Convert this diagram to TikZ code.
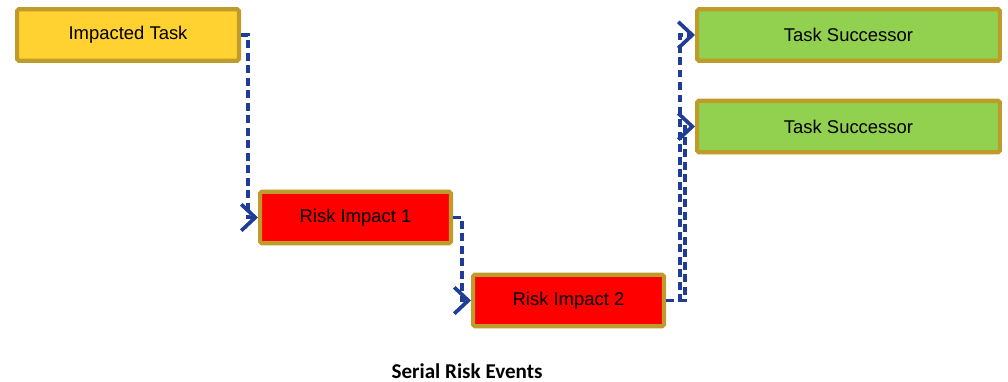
\documentclass[tikz,border=0pt]{standalone}
\usepackage{fontspec}
\setmainfont{Liberation Sans}
\newfontfamily\captionfont{Carlito}
\usepackage{xcolor}
\usetikzlibrary{arrows.meta,positioning}
\definecolor{taskyellow}{HTML}{FFD232}
\definecolor{boxgold}{HTML}{BF9B2A}
\definecolor{riskred}{HTML}{FF0000}
\definecolor{succgreen}{HTML}{92D050}
\definecolor{linkblue}{HTML}{1F3C96}

\begin{document}
\begin{tikzpicture}[x=0.02cm,y=-0.02cm,
    box/.style={draw=boxgold,line width=2.3pt,rounded corners=1pt,
        font=\fontsize{10.5}{12}\selectfont,inner sep=0pt,
        minimum height=1.03cm},
    link/.style={linkblue,line width=2.1pt,dash pattern=on 4.5pt off 2.6pt,
        -{Straight Barb[length=8pt,width=15pt,line width=2.1pt]}}]
    \useasboundingbox (0,0) rectangle (1008,382);

    % Boxes
    \node[box,fill=taskyellow,minimum width=4.44cm] (imp) at (128,35) {Impacted Task};
    \node[box,fill=riskred,minimum width=3.82cm] (riskA) at (355.5,217.5) {Risk Impact 1};
    \node[box,fill=riskred,minimum width=3.82cm] (riskB) at (568.5,300.5) {Risk Impact 2};
    \node[box,fill=succgreen,minimum width=6.06cm] (succA) at (848.5,35) {Task Successor};
    \node[box,fill=succgreen,minimum width=6.06cm] (succB) at (848.5,126.5) {Task Successor};

    % Links
    \draw[link] (imp.east) -- ++(7,0) |- (riskA.west);
    \draw[link] (riskA.east) -- ++(9,0) |- (riskB.west);
    \draw[link] (riskB.east) -- ++(14,0) |- (succA.west);
    \draw[link] (riskB.east) -- ++(19,0) |- (succB.west);

    % Caption
    \node[font=\captionfont\bfseries\fontsize{12}{14}\selectfont] (cap) at (467,371) {Serial Risk Events};
\end{tikzpicture}
\end{document}
